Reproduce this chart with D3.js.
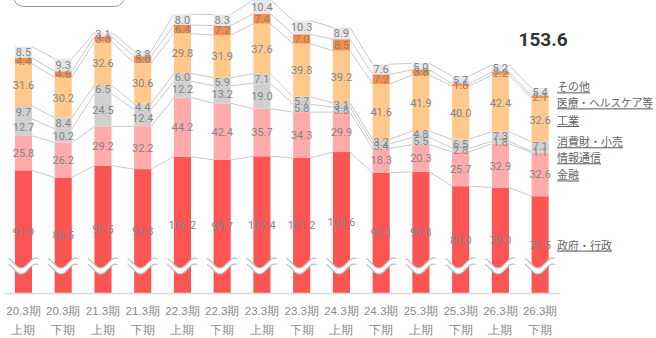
<!DOCTYPE html>
<html>
<head>
<meta charset="utf-8">
<script src="https://cdn.jsdelivr.net/npm/d3@7"></script>
<style>
  body { margin: 0; background: #fff; }
  svg { display: block; font-family: Roboto, "Noto Sans CJK JP", sans-serif; }
</style>
</head>
<body>
<div id="chart"></div>
<script>
// periods (two line labels)
var periods = ["20.3期", "20.3期", "21.3期", "21.3期", "22.3期", "22.3期", "23.3期",
               "23.3期", "24.3期", "24.3期", "25.3期", "25.3期", "26.3期", "26.3期"];
var halves = ["上期", "下期", "上期", "下期", "上期", "下期", "上期",
              "下期", "上期", "下期", "上期", "下期", "上期", "下期"];

var seriesNames = ["政府・行政", "金融", "情報通信", "消費財・小売", "工業", "医療・ヘルスケア等", "その他"];

var govt     = [91.9, 86.5, 95.5, 92.8, 102.2, 99.7, 102.4, 101.2, 105.6, 90.1, 90.8, 80.0, 79.0, 72.5];
var finance  = [25.8, 26.2, 29.2, 32.2, 44.2, 42.4, 35.7, 34.3, 29.9, 18.3, 20.3, 25.7, 32.9, 32.6];
var telecom  = [12.7, 10.2, 24.5, 12.4, 12.2, 13.2, 19.0, 5.8, 3.8, 3.4, 5.5, 2.8, 1.8, 1.1];
var consumer = [9.7, 8.4, 6.5, 4.4, 6.0, 5.9, 7.1, 5.7, 3.1, 3.2, 4.8, 6.5, 7.3, 7.1];
var industry = [31.6, 30.2, 32.6, 30.6, 29.8, 31.9, 37.6, 39.8, 39.2, 41.6, 41.9, 40.0, 42.4, 32.6];
var medical  = [4.4, 4.6, 3.8, 5.0, 6.4, 7.2, 7.4, 7.0, 8.5, 7.2, 3.8, 1.8, 2.2, 2.1];
var other    = [8.5, 9.3, 3.1, 3.8, 8.0, 8.3, 10.4, 10.3, 8.9, 7.6, 5.0, 5.7, 5.2, 5.4];

var latestTotal = 153.6;

var colors = ["#fd5454", "#ffabab", "#d0d0d0", "#d0d0d0", "#ffc98c", "#fb8c48", "#e6e6e6"];

var W = 656, H = 338;
var baseY = 293;

var svg = d3.select('#chart').append('svg')
    .attr('width', W)
    .attr('height', H);

// build table for the stack
var allSeries = [govt, finance, telecom, consumer, industry, medical, other];
var table = periods.map(function(p, i) {
    var row = { idx: i };
    seriesNames.forEach(function(s, j) { row[s] = allSeries[j][i]; });
    return row;
});
var stacked = d3.stack().keys(seriesNames)(table);

var x = d3.scaleBand()
    .domain(d3.range(periods.length))
    .range([3.6, 560])
    .paddingInner(0.57)
    .paddingOuter(0.285);

var y = d3.scaleLinear()
    .domain([0, 219.5])
    .range([baseY, 0]);

var fmt = d3.format('.1f');

// the cropped button at top left
svg.append('rect')
    .attr('x', 13.5).attr('y', -20)
    .attr('width', 111).attr('height', 26.5)
    .attr('rx', 10)
    .attr('fill', 'none')
    .attr('stroke', '#999')
    .attr('stroke-width', 1);

// connector lines between neighbouring bars
var lines = svg.append('g');
stacked.forEach(function(layer) {
    for (var i = 0; i < layer.length - 1; i++) {
        lines.append('line')
            .attr('x1', x(i) + x.bandwidth())
            .attr('x2', x(i + 1))
            .attr('y1', y(layer[i][1]))
            .attr('y2', y(layer[i + 1][1]))
            .attr('stroke', '#c9c9c9')
            .attr('stroke-width', 1);
    }
});

// bars
stacked.forEach(function(layer, j) {
    svg.append('g')
        .attr('fill', colors[j])
        .selectAll('rect')
        .data(layer)
        .join('rect')
        .attr('x', function(d, i) { return x(i); })
        .attr('width', x.bandwidth())
        .attr('y', function(d) { return y(d[1]); })
        .attr('height', function(d) { return y(d[0]) - y(d[1]); });
});

// segment labels
stacked.forEach(function(layer, j) {
    svg.append('g')
        .selectAll('text')
        .data(layer)
        .join('text')
        .attr('x', function(d, i) { return x(i) + x.bandwidth() / 2; })
        .attr('y', function(d) { return (y(d[0]) + y(d[1])) / 2; })
        .attr('dy', '0.36em')
        .attr('text-anchor', 'middle')
        .attr('font-size', '11px')
        .attr('fill', '#858585')
        .text(function(d) { return fmt(d[1] - d[0]); });
});

// wavy break marks over the bars
var waveY = 266;
function wave(cx, off) {
    var pts = d3.range(0, 31).map(function(k) {
        var t = k / 30;
        var xx = cx - 15 + t * 30;
        var yy = waveY + off + 5 * Math.cos(t * 2 * Math.PI + Math.PI * 0.15) * -1;
        return [xx, yy];
    });
    return pts;
}
var breaks = svg.append('g');
periods.forEach(function(p, i) {
    var cx = x(i) + x.bandwidth() / 2;
    var top = wave(cx, -3);
    var bot = wave(cx, 3);
    var band = top.concat(bot.slice().reverse());
    breaks.append('path')
        .attr('d', d3.line()(band) + 'Z')
        .attr('fill', '#fff');
    breaks.append('path')
        .attr('d', d3.line().curve(d3.curveBasis)(top))
        .attr('fill', 'none').attr('stroke', '#bdbdbd').attr('stroke-width', 1.2);
    breaks.append('path')
        .attr('d', d3.line().curve(d3.curveBasis)(bot))
        .attr('fill', 'none').attr('stroke', '#bdbdbd').attr('stroke-width', 1.2);
});

// x axis
var axis = svg.append('g')
    .attr('transform', 'translate(0,' + baseY + ')')
    .call(d3.axisBottom(x).tickSize(0).tickSizeOuter(0).tickFormat(''));
axis.select('.domain').attr('stroke', '#d9d9d9').attr('stroke-width', 1.5);
axis.selectAll('.tick').each(function(d) {
    var t = d3.select(this);
    t.append('text')
        .attr('y', 18).attr('dy', '0.36em')
        .attr('fill', '#8a8a8a').attr('font-size', '11.5px')
        .attr('text-anchor', 'middle')
        .text(periods[d]);
    t.append('text')
        .attr('y', 37).attr('dy', '0.36em')
        .attr('fill', '#8a8a8a').attr('font-size', '11.5px')
        .attr('text-anchor', 'middle')
        .text(halves[d]);
});

// legend labels next to the last bar, pushed apart when they collide
var last = periods.length - 1;
var legendPos = stacked.map(function(layer, j) {
    return { name: seriesNames[j], y: (y(layer[last][0]) + y(layer[last][1])) / 2 };
});
var minGap = 16;
for (var it = 0; it < 20; it++) {
    var sorted = legendPos.slice().sort(function(a, b) { return a.y - b.y; });
    for (var k = 0; k < sorted.length - 1; k++) {
        var gap = sorted[k + 1].y - sorted[k].y;
        if (gap < minGap) {
            var push = (minGap - gap) / 2;
            sorted[k].y -= push;
            sorted[k + 1].y += push;
        }
    }
}
svg.append('g')
    .selectAll('text')
    .data(legendPos)
    .join('text')
    .attr('x', 557)
    .attr('y', function(d) { return d.y + 1; })
    .attr('dy', '0.36em')
    .attr('font-size', '11px')
    .attr('fill', '#666')
    .style('text-decoration', 'underline')
    .text(function(d) { return d.name; })
    .each(function() {
        // keep the long label inside the window
        var len = this.getComputedTextLength();
        if (len > 96) {
            d3.select(this).attr('textLength', 96).attr('lengthAdjust', 'spacingAndGlyphs');
        }
    });

// total for the latest period
svg.append('text')
    .attr('x', x(last) + x.bandwidth() / 2 + 3)
    .attr('y', 46)
    .attr('text-anchor', 'middle')
    .attr('font-size', '19px')
    .attr('font-weight', 'bold')
    .attr('fill', '#333')
    .text(fmt(latestTotal));
</script>
</body>
</html>
